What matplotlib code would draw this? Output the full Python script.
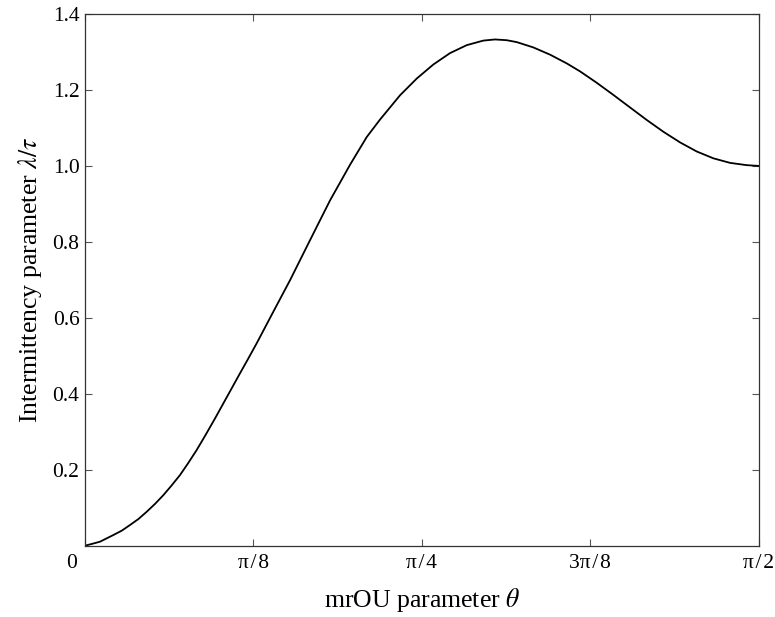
import matplotlib
matplotlib.use('Agg')
import matplotlib.pyplot as plt
from matplotlib.transforms import ScaledTranslation
import numpy as np

# values
theta = [0.0, 0.0156, 0.035, 0.066, 0.0856, 0.105, 0.1243, 0.144, 0.1632,
         0.1826, 0.2022, 0.2215, 0.2409, 0.2604, 0.2798, 0.3031, 0.3614,
         0.3808, 0.4003, 0.4390, 0.4780, 0.5169, 0.5440, 0.5712, 0.6179,
         0.6568, 0.6878, 0.7345, 0.7734, 0.8121, 0.8510, 0.8900, 0.9287,
         0.9560, 0.9833, 1.0066, 1.0453, 1.0842, 1.1231, 1.1541, 1.1930,
         1.2318, 1.2707, 1.3097, 1.3484, 1.3873, 1.4262, 1.4650, 1.5039,
         1.5428, 1.5708]
lam_tau = [0.0, 0.0045, 0.0105, 0.028, 0.0395, 0.0545, 0.070, 0.0895, 0.110,
           0.133, 0.159, 0.186, 0.218, 0.252, 0.289, 0.335, 0.454,
           0.493, 0.533, 0.616, 0.699, 0.787, 0.848, 0.909, 1.003,
           1.076, 1.122, 1.186, 1.230, 1.267, 1.297, 1.318, 1.330,
           1.333, 1.331, 1.326, 1.312, 1.293, 1.270, 1.249, 1.219,
           1.187, 1.154, 1.121, 1.090, 1.062, 1.038, 1.020, 1.008,
           1.002, 1.000]

xticks = [0, np.pi / 8, np.pi / 4, 3 * np.pi / 8, np.pi / 2]
xticklabels = ['0', '\u03c0\u200a/\u200a8', '\u03c0\u200a/\u200a4',
               '3\u03c0\u200a/\u200a8', '\u03c0\u200a/\u200a2']
yticks = [0.2, 0.4, 0.6, 0.8, 1.0, 1.2, 1.4]

plt.rcParams['font.family'] = ['Liberation Serif', 'DejaVu Serif']
plt.rcParams['mathtext.fontset'] = 'stix'

fig = plt.figure(figsize=(7.75, 6.17), dpi=100)
ax = fig.add_axes([0.1097, 0.1156, 0.8693, 0.8617])

ax.plot(theta, lam_tau, color='black', linewidth=1.3)

ax.set_xlim(0, np.pi / 2)
ax.set_ylim(0, 1.4)
ax.set_xticks(xticks)
ax.set_xticklabels(xticklabels)
ax.set_yticks(yticks)
ax.set_yticklabels(['%.1f' % v for v in yticks])

ax.tick_params(direction='in', length=5, width=0.8, color='#555555',
               labelsize=15.5, top=True, right=True)
ax.tick_params(axis='x', pad=6)
ax.tick_params(axis='y', pad=4)
for s in ax.spines.values():
    s.set_color('#333333')
    s.set_linewidth(0.9)

# first x label sits left of the corner
lab0 = ax.get_xticklabels()[0]
lab0.set_horizontalalignment('right')
lab0.set_transform(lab0.get_transform() + ScaledTranslation(-0.08, 0, fig.dpi_scale_trans))

ax.set_xlabel(r'mrOU parameter $\theta$', fontsize=18.5, labelpad=9)
ax.set_ylabel(r'Intermittency parameter $\lambda/\tau$', fontsize=18.5, labelpad=6)

fig.savefig('out.png', dpi=100)
